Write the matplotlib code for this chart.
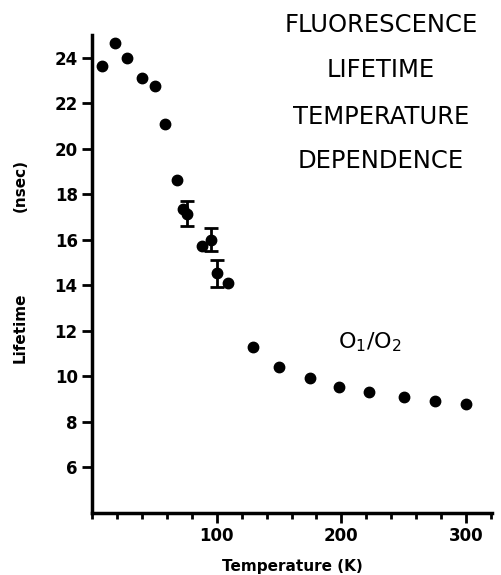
import matplotlib
matplotlib.use("Agg")
import matplotlib.pyplot as plt
from matplotlib.ticker import MultipleLocator

# Data
temperature = [8, 18, 28, 40, 50, 58, 68, 73, 76, 88, 95, 100, 109,
               129, 150, 175, 198, 222, 250, 275, 300]
lifetime = [23.65, 24.65, 24.0, 23.1, 22.75, 21.1, 18.65, 17.35, 17.15,
            15.75, 15.98, 14.55, 14.1, 11.3, 10.42, 9.94, 9.55, 9.31,
            9.1, 8.92, 8.8]
err_temperature = [76, 95, 100]
err_lifetime = [17.15, 16.0, 14.52]
err_size = [0.55, 0.5, 0.58]

y_ticks = [6, 8, 10, 12, 14, 16, 18, 20, 22, 24]
x_ticks = [100, 200, 300]
title_lines = ["FLUORESCENCE", "LIFETIME", "TEMPERATURE", "DEPENDENCE"]

fig = plt.figure(figsize=(5.02, 5.75), dpi=100)
ax = fig.add_axes([0.184, 0.108, 0.796, 0.831])

ax.plot(temperature, lifetime, 'o', color='black', markersize=7.5)
ax.errorbar(err_temperature, err_lifetime, yerr=err_size, fmt='none',
            ecolor='black', elinewidth=2, capsize=5, capthick=2)

ax.set_xlim(0, 321)
ax.set_ylim(4, 25)
ax.set_yticks(y_ticks)
ax.set_xticks(x_ticks)
ax.xaxis.set_minor_locator(MultipleLocator(20))
for s in ['top', 'right']:
    ax.spines[s].set_visible(False)
for s in ['left', 'bottom']:
    ax.spines[s].set_linewidth(2.5)
ax.tick_params(axis='both', which='major', direction='out', length=7, width=2,
               labelsize=12)
ax.tick_params(axis='x', which='minor', direction='out', length=4, width=2)
for lab in ax.get_xticklabels() + ax.get_yticklabels():
    lab.set_fontweight('bold')

ax.set_xlabel("Temperature (K)", fontsize=11, fontweight='bold', labelpad=10)
fig.text(0.040, 0.430, "Lifetime", rotation=90, ha='center', va='center',
         fontsize=11, fontweight='bold')
fig.text(0.040, 0.678, "(nsec)", rotation=90, ha='center', va='center',
         fontsize=11, fontweight='bold')

ys = [25, 70, 117, 161]
for line, yp in zip(title_lines, ys):
    fig.text(381 / 502, 1 - yp / 575, line, ha='center', va='center',
             fontsize=17.5)

ax.text(223, 11.5, "O$_1$/O$_2$", ha='center', va='center', fontsize=16)

fig.savefig("out.png", dpi=100)
